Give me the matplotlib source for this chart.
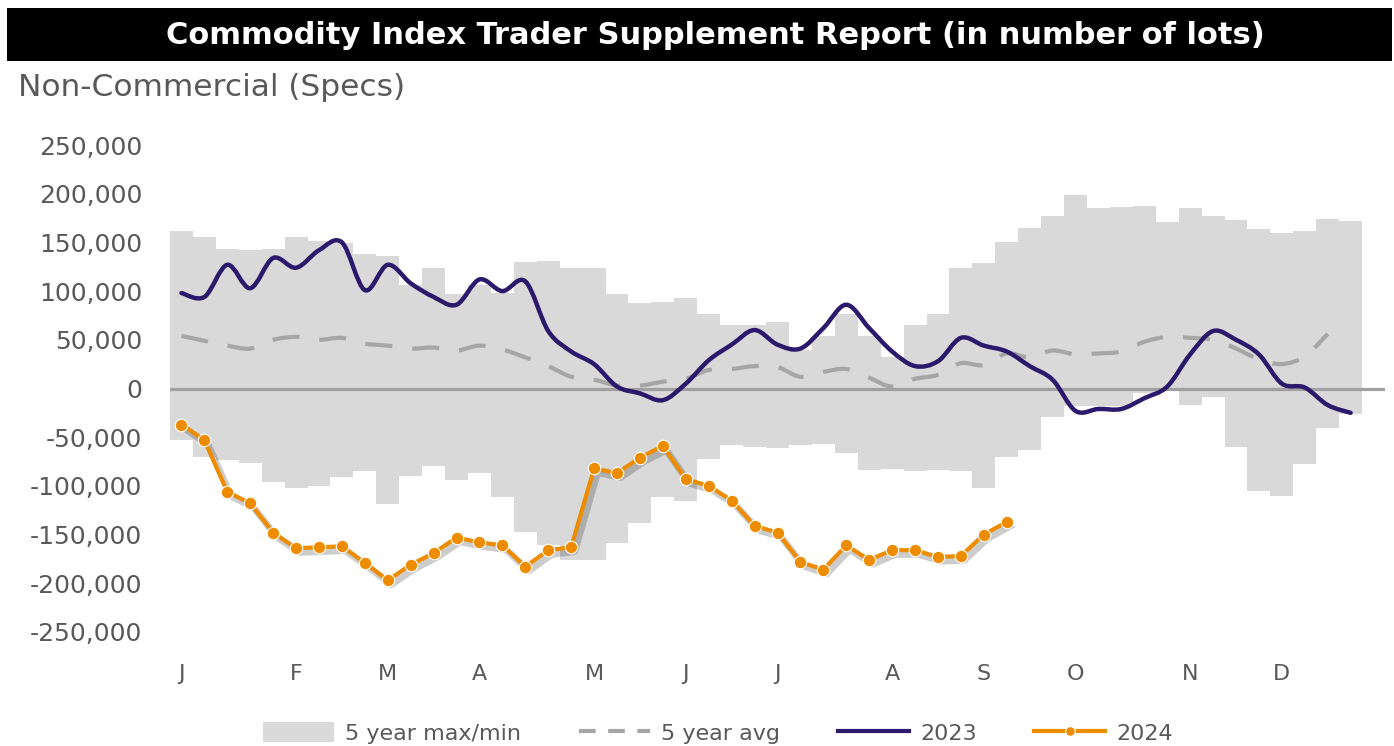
import numpy as np
import matplotlib
matplotlib.use("Agg")
import matplotlib.pyplot as plt
from matplotlib.path import Path
from matplotlib.patches import PathPatch, Patch, Rectangle
from matplotlib.lines import Line2D
import matplotlib.patheffects as pe

# ---------------- data (thousands of lots, weekly) ----------------
month_labels = ["J", "F", "M", "A", "M", "J", "J", "A", "S", "O", "N", "D"]
month_weeks = [0, 5, 9, 13, 18, 22, 26, 31, 35, 39, 44, 48]

max5 = [162, 156, 143, 142, 143, 156, 151, 149, 138, 136, 106, 124, 97, 106, 98,
        130, 131, 124, 124, 97, 88, 89, 93, 76, 65, 65, 68, 40, 54, 76, 54, 32,
        65, 76, 124, 129, 150, 165, 177, 199, 185, 186, 187, 171, 185, 177, 173,
        164, 160, 162, 174, 172]
min5 = [-53, -70, -73, -77, -96, -102, -100, -91, -85, -119, -90, -80, -94, -87,
        -111, -147, -161, -176, -176, -159, -138, -111, -115, -72, -58, -60, -61,
        -58, -57, -66, -84, -83, -85, -84, -85, -102, -70, -63, -29, -18, -18,
        -18, -5, 0, -17, -9, -60, -105, -110, -78, -41, -26]
avg5 = [54, 49, 44, 41, 50, 53, 50, 52, 46, 44, 41, 42, 39, 44, 40, 32, 23, 12,
        9, 3, 3, 7, 10, 19, 20, 23, 22, 12, 17, 20, 11, 2, 10, 14, 26, 24, 36,
        32, 39, 35, 36, 38, 48, 53, 52, 50, 41, 30, 25, 33, 56, np.nan]
y2023 = [98, 94, 127, 103, 134, 124, 142, 150, 101, 127, 108, 94, 86, 112, 100,
         110, 59, 38, 25, 2, -5, -12, 5, 29, 45, 60, 45, 41, 62, 86, 62, 38, 23,
         28, 52, 44, 38, 23, 9, -23, -21, -21, -10, 2, 35, 59, 50, 35, 5, 1,
         -17, -25]
y2024 = [-37, -53, -106, -118, -148, -164, -163, -162, -179, -197, -181, -169,
         -153, -158, -161, -183, -166, -163, -82, -87, -71, -59, -93, -100, -115,
         -141, -148, -178, -186, -161, -176, -166, -166, -173, -172, -150, -137]

ytick_vals = [-250, -200, -150, -100, -50, 0, 50, 100, 150, 200, 250]

# ---------------- styling ----------------
GREY_BAND = "#d9d9d9"
AVG_COL = "#a6a6a6"
COL23 = "#2b1a6b"
COL24 = "#ee8c00"
TXT = "#595959"
FONT = "DejaVu Sans"
plt.rcParams["font.family"] = [FONT]

SCALE = 1000.0


def smooth_path(xs, ys, tension=1.0):
    """Catmull-Rom curve through the data points, expressed as cubic Beziers."""
    pts = [(x, y) for x, y in zip(xs, ys) if not np.isnan(y)]
    P = np.array(pts, dtype=float)
    n = len(P)
    verts = [tuple(P[0])]
    codes = [Path.MOVETO]
    for i in range(n - 1):
        p0 = P[i - 1] if i > 0 else P[i]
        p1 = P[i]
        p2 = P[i + 1]
        p3 = P[i + 2] if i + 2 < n else P[i + 1]
        c1 = p1 + (p2 - p0) / 6.0 * tension
        c2 = p2 - (p3 - p1) / 6.0 * tension
        verts += [tuple(c1), tuple(c2), tuple(p2)]
        codes += [Path.CURVE4] * 3
    return Path(verts, codes)


W, H = 1394, 746
fig = plt.figure(figsize=(W / 100, H / 100), dpi=100)

# title bar
fig.patches.append(Rectangle((7 / W, 1 - 61 / H), 1385 / W, 53 / H,
                             transform=fig.transFigure, facecolor="black",
                             edgecolor="none", zorder=0))
fig.text(715 / W, 1 - 35 / H,
         "Commodity Index Trader Supplement Report (in number of lots)",
         color="white", fontsize=22, fontweight="bold", ha="center",
         va="center")
fig.text(18 / W, 1 - 88 / H, "Non-Commercial (Specs)", color=TXT,
         fontsize=22.5, ha="left", va="center")

ax = fig.add_axes([170 / W, 1 - 632 / H, 1215 / W, 487 / H])

weeks = np.arange(len(max5))
mx = np.array(max5) * SCALE
mn = np.array(min5) * SCALE
ax.bar(weeks, mx - mn, bottom=mn, width=1.0, color=GREY_BAND,
       edgecolor="none", zorder=1)

ax.axhline(0, color="#a0a0a0", lw=2.3, zorder=2)

avg_path = smooth_path(np.arange(len(avg5)), np.array(avg5) * SCALE)
ax.add_patch(PathPatch(avg_path, facecolor="none", edgecolor=AVG_COL,
                       lw=3.0, linestyle=(0, (6.5, 4.8)), capstyle="butt",
                       zorder=3))

p23 = smooth_path(np.arange(len(y2023)), np.array(y2023) * SCALE)
ax.add_patch(PathPatch(p23, facecolor="none", edgecolor=COL23, lw=3.2,
                       zorder=4, capstyle="round", joinstyle="round"))

x24 = np.arange(len(y2024))
v24 = np.array(y2024) * SCALE
# line with soft drop shadow
ax.plot(x24, v24, color=COL24, lw=3.0, zorder=5,
        path_effects=[pe.SimpleLineShadow(offset=(2.5, -3), shadow_color="k",
                                          alpha=0.2, linewidth=5),
                      pe.Normal()])
# markers on top
ax.plot(x24, v24, linestyle="none", marker="o", markersize=9,
        markerfacecolor=COL24, markeredgecolor="white", markeredgewidth=0.8,
        zorder=6)

ax.set_xlim(-0.5, 52.5)
ax.set_ylim(-250 * SCALE, 250 * SCALE)
ax.set_yticks([v * SCALE for v in ytick_vals])
ax.set_yticklabels([f"{v * 1000:,.0f}" for v in ytick_vals])
ax.set_xticks(month_weeks)
ax.set_xticklabels(month_labels)
ax.tick_params(axis="both", length=0, colors=TXT, labelsize=16)
ax.tick_params(axis="y", labelsize=18, pad=20)
ax.tick_params(axis="x", pad=23)
for s in ax.spines.values():
    s.set_visible(False)
ax.set_facecolor("none")

handles = [
    Patch(facecolor=GREY_BAND, edgecolor="none"),
    Line2D([], [], color=AVG_COL, lw=3.0, linestyle=(0, (4, 3))),
    Line2D([], [], color=COL23, lw=3.0),
    Line2D([], [], color=COL24, lw=3.0, marker="o", markersize=7,
           markeredgecolor="white", markeredgewidth=0.8),
]
labels = ["5 year max/min", "5 year avg", "2023", "2024"]
fig.legend(handles, labels, loc="center", bbox_to_anchor=(718 / W, 1 - 733 / H),
           ncol=4, frameon=False, fontsize=16, handlelength=3.2,
           handleheight=1.0, columnspacing=2.6, handletextpad=0.5,
           labelcolor=TXT)

fig.savefig("out.png", dpi=100)
